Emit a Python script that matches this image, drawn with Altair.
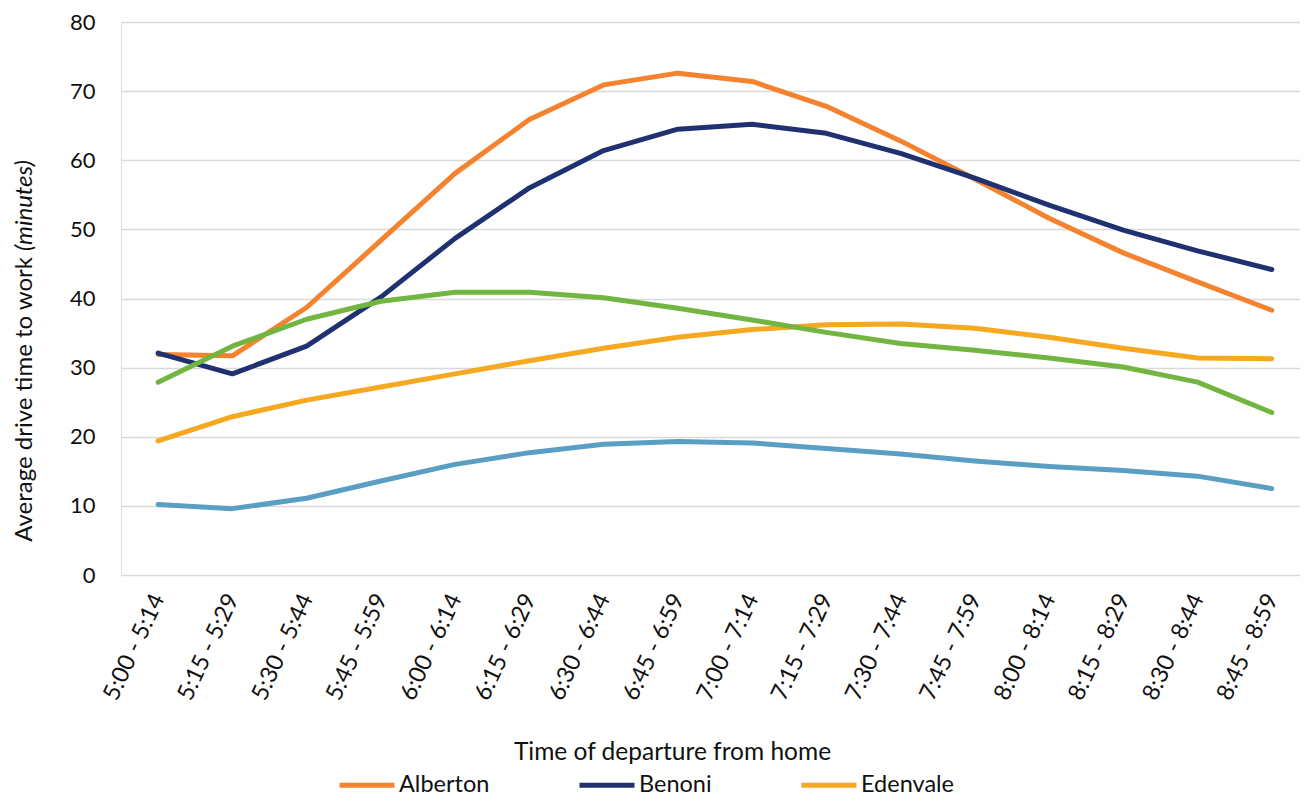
import altair as alt
import pandas as pd

categories = ["5:00 - 5:14", "5:15 - 5:29", "5:30 - 5:44", "5:45 - 5:59",
              "6:00 - 6:14", "6:15 - 6:29", "6:30 - 6:44", "6:45 - 6:59",
              "7:00 - 7:14", "7:15 - 7:29", "7:30 - 7:44", "7:45 - 7:59",
              "8:00 - 8:14", "8:15 - 8:29", "8:30 - 8:44", "8:45 - 8:59"]

series_names = ["Alberton", "Benoni", "Edenvale", "Series 4", "Series 5"]
legend_names = ["Alberton", "Benoni", "Edenvale"]

alberton = [31.9, 31.7, 38.7, 48.4, 58.1, 65.9, 70.9, 72.6, 71.4, 67.8, 62.8, 57.3, 51.6, 46.6, 42.4, 38.3]
benoni   = [32.1, 29.1, 33.1, 40.2, 48.7, 56.0, 61.4, 64.5, 65.2, 63.9, 61.0, 57.4, 53.5, 49.9, 46.9, 44.2]
edenvale = [19.4, 22.9, 25.3, 27.2, 29.1, 31.0, 32.8, 34.4, 35.5, 36.2, 36.3, 35.7, 34.4, 32.8, 31.4, 31.3]
series4  = [27.9, 33.1, 37.0, 39.6, 40.9, 40.9, 40.1, 38.6, 36.9, 35.1, 33.5, 32.5, 31.4, 30.1, 27.9, 23.5]
series5  = [10.2, 9.6, 11.1, 13.6, 16.0, 17.7, 18.9, 19.3, 19.1, 18.3, 17.5, 16.5, 15.7, 15.1, 14.3, 12.5]

colors = ["#F5822F", "#1F3170", "#F6A821", "#72B541", "#5A9EC4"]

y_ticks = [0, 10, 20, 30, 40, 50, 60, 70, 80]

rows = []
for name, vals in zip(series_names, [alberton, benoni, edenvale, series4, series5]):
    for i, (c, v) in enumerate(zip(categories, vals)):
        rows.append({"series": name, "idx": i, "slot": c, "minutes": v})
df = pd.DataFrame(rows)

label_expr = "[" + ",".join("'" + c + "'" for c in categories) + "][datum.value]"

FONT = "Lato"
TXT = "#111111"

lines = alt.Chart(df).mark_line(strokeWidth=5, strokeCap="round", strokeJoin="round").encode(
    x=alt.X("idx:Q",
            scale=alt.Scale(domain=[-0.5, 15.38], nice=False, zero=False),
            axis=alt.Axis(values=list(range(len(categories))), labelExpr=label_expr,
                          labelAngle=-65, grid=False, ticks=False, domain=False,
                          labelPadding=20, labelFontSize=23.5, labelColor=TXT, labelFont=FONT,
                          labelOverlap=False, labelFlush=False,
                          title="Time of departure from home", titleFontSize=24.5,
                          titleFontWeight="normal", titleColor=TXT, titleFont=FONT,
                          titleX=551, titleY=177, titleAlign="center", titleBaseline="middle")),
    y=alt.Y("minutes:Q",
            scale=alt.Scale(domain=[0, 80], nice=False),
            axis=alt.Axis(values=y_ticks, grid=True, gridColor="#D9D9D9", gridWidth=1.5,
                          ticks=False, domain=False, labelPadding=26, labelFontSize=22,
                          labelColor=TXT, labelFont=FONT, title=None)),
    color=alt.Color("series:N",
                    scale=alt.Scale(domain=series_names, range=colors),
                    legend=alt.Legend(values=legend_names, orient="none", legendX=216, legendY=733,
                                      direction="horizontal", columns=3, symbolType="stroke",
                                      symbolSize=3025, symbolStrokeWidth=5, labelFontSize=23.5,
                                      labelFont=FONT, labelColor=TXT, labelOffset=2,
                                      columnPadding=79, title=None)),
    detail="series:N",
)

ytitle_main = alt.Chart(pd.DataFrame({"t": ["Average drive time to work"]})).mark_text(
    angle=270, align="right", baseline="middle", fontSize=24, font=FONT, color=TXT
).encode(text="t:N", x=alt.value(-96), y=alt.value(235))

ytitle_ital = alt.Chart(pd.DataFrame({"t": ["(minutes)"]})).mark_text(
    angle=270, align="left", baseline="middle", fontSize=24, font=FONT, color=TXT, fontStyle="italic"
).encode(text="t:N", x=alt.value(-96), y=alt.value(229))

chart = alt.layer(lines, ytitle_main, ytitle_ital).properties(
    width=1179, height=553,
    autosize=alt.AutoSizeParams(type="none"),
    padding={"left": 113, "top": 14, "right": 0, "bottom": 223},
).configure_view(stroke=None).configure(font=FONT)

chart.save("out.html", embed_options={"renderer": "svg", "actions": False})
